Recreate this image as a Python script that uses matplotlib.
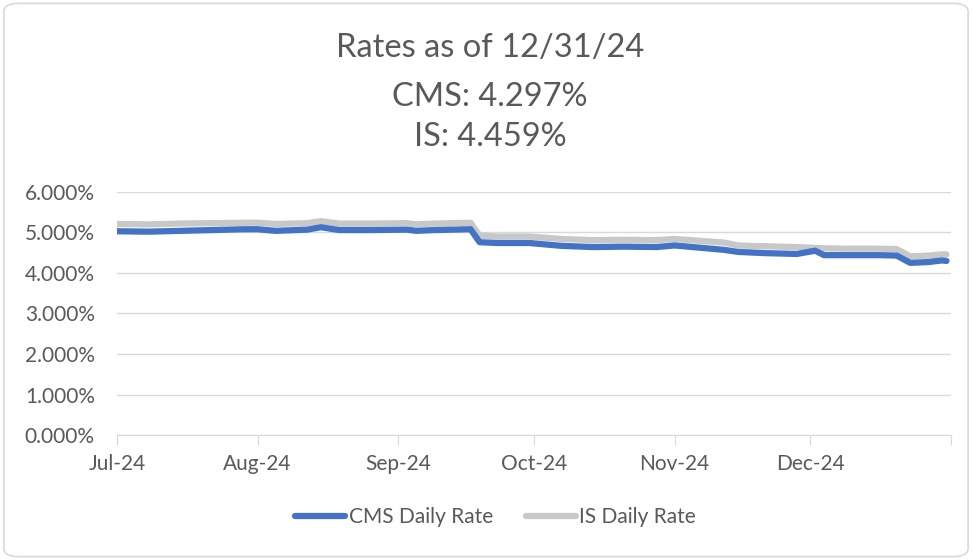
import matplotlib.pyplot as plt
from matplotlib.patches import FancyBboxPatch
from matplotlib.ticker import FuncFormatter, MultipleLocator
import pandas as pd

plt.rcParams['font.family'] = ['Lato', 'DejaVu Sans']

# values (percent)
dates = ['2024-07-01', '2024-07-08', '2024-07-15', '2024-07-22', '2024-07-29',
         '2024-08-01', '2024-08-05', '2024-08-12', '2024-08-15', '2024-08-19',
         '2024-08-26', '2024-09-03', '2024-09-05', '2024-09-09', '2024-09-17',
         '2024-09-19', '2024-09-23', '2024-09-30', '2024-10-07', '2024-10-14',
         '2024-10-21', '2024-10-28', '2024-11-01', '2024-11-07', '2024-11-12',
         '2024-11-15', '2024-11-21', '2024-11-28', '2024-12-02', '2024-12-04',
         '2024-12-09', '2024-12-16', '2024-12-20', '2024-12-23', '2024-12-27',
         '2024-12-30', '2024-12-31']
cms = [5.03, 5.02, 5.04, 5.06, 5.08,
       5.08, 5.04, 5.07, 5.13, 5.06,
       5.06, 5.07, 5.04, 5.06, 5.08,
       4.76, 4.74, 4.74, 4.67, 4.64,
       4.65, 4.64, 4.68, 4.62, 4.57,
       4.52, 4.49, 4.47, 4.55, 4.44,
       4.44, 4.44, 4.43, 4.25, 4.27,
       4.31, 4.297]
is_rate = [5.21, 5.20, 5.22, 5.23, 5.24,
           5.24, 5.21, 5.23, 5.28, 5.22,
           5.22, 5.23, 5.20, 5.22, 5.24,
           4.92, 4.90, 4.90, 4.84, 4.81,
           4.82, 4.81, 4.84, 4.79, 4.75,
           4.68, 4.66, 4.64, 4.62, 4.61,
           4.60, 4.60, 4.59, 4.41, 4.43,
           4.46, 4.459]

df = pd.DataFrame({'date': pd.to_datetime(dates), 'cms': cms, 'is': is_rate})

text_col = '#595959'
fig = plt.figure(figsize=(9.72, 5.6), dpi=100)
fig.patches.append(FancyBboxPatch((0.004, 0.006), 0.992, 0.988,
                                  boxstyle='round,pad=0,rounding_size=0.015',
                                  transform=fig.transFigure, fc='white',
                                  ec='#D9D9D9', lw=1.2, zorder=-1))
ax = fig.add_axes([0.1204, 0.2232, 0.858, 0.434])

ax.plot(df['date'], df['is'], color='#C8C8C8', lw=4.5, solid_capstyle='round',
        label='IS Daily Rate', zorder=3)
ax.plot(df['date'], df['cms'], color='#4472C4', lw=4.5, solid_capstyle='round',
        label='CMS Daily Rate', zorder=4)

ax.set_ylim(0, 6)
ax.yaxis.set_major_locator(MultipleLocator(1))
ax.yaxis.set_major_formatter(FuncFormatter(lambda v, p: f'{v:.3f}%'))
ax.set_xlim(pd.Timestamp('2024-07-01'), pd.Timestamp('2025-01-01'))
ticks = pd.date_range('2024-07-01', '2025-01-01', freq='MS')
ax.set_xticks(ticks)
ax.set_xticklabels([d.strftime('%b-%y') for d in ticks[:-1]] + [''])

ax.grid(axis='y', color='#D9D9D9', lw=1)
for s in ['top', 'right', 'left']:
    ax.spines[s].set_visible(False)
ax.spines['bottom'].set_color('#D9D9D9')
ax.tick_params(axis='y', length=0, labelsize=15, labelcolor=text_col, pad=16)
ax.tick_params(axis='x', length=7, color='#D9D9D9', labelsize=15,
               labelcolor=text_col, pad=7)

fig.text(0.504, 0.914, 'Rates as of 12/31/24', ha='center', va='center',
         fontsize=23.5, color=text_col)
fig.text(0.504, 0.827, 'CMS: 4.297%', ha='center', va='center',
         fontsize=23.5, color=text_col)
fig.text(0.504, 0.755, 'IS: 4.459%', ha='center', va='center',
         fontsize=23.5, color=text_col)

h, l = ax.get_legend_handles_labels()
fig.legend(h[::-1], l[::-1], loc='center', bbox_to_anchor=(0.51, 0.077), ncol=2,
           frameon=False, fontsize=15, labelcolor=text_col, handlelength=2.4,
           handletextpad=0.15, columnspacing=1.6)

fig.savefig('out.png', dpi=100)
